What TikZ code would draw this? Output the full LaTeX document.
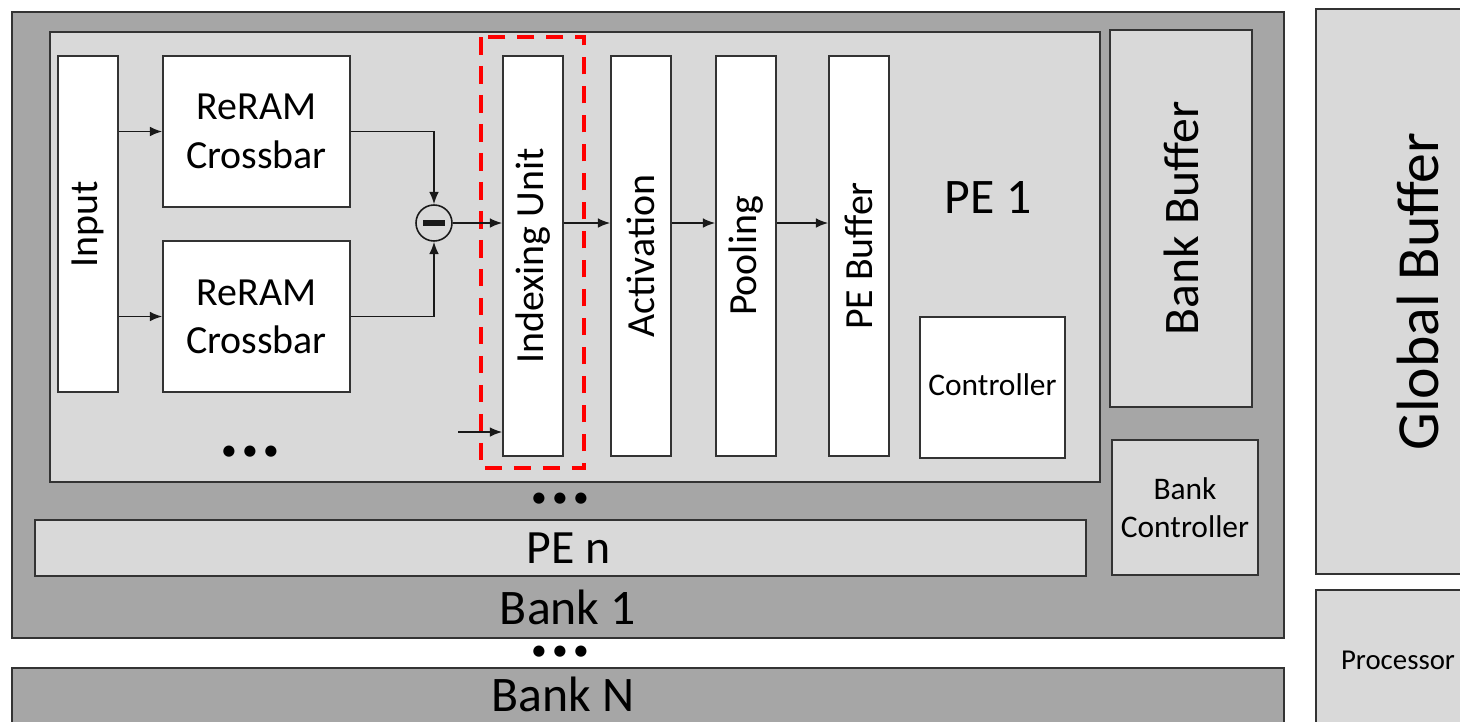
\documentclass[tikz,border=0pt]{standalone}
\usepackage{fontspec}
\setmainfont{Carlito}
\usetikzlibrary{arrows.meta,positioning,calc}
\definecolor{bankgray}{HTML}{A6A6A6}
\definecolor{pegray}{HTML}{D9D9D9}
\definecolor{idxred}{HTML}{FF0000}

\begin{document}
\begin{tikzpicture}[
    x=0.02cm, y=-0.02cm,
    box/.style={rectangle, draw=black!80, line width=1pt, inner sep=0pt, align=center},
    unit/.style={box, fill=white, font=\fontsize{22.7}{27.5}\selectfont},
    region/.style={box, fill=pegray},
    bank/.style={box, fill=bankgray},
    big/.style={inner sep=1pt, font=\fontsize{28.3}{34}\selectfont},
    dots/.style={inner sep=0pt, font=\fontsize{18}{20}\selectfont},
    arr/.style={-{Latex[length=7pt,width=5.5pt]}, line width=0.8pt, black!90}
]
\useasboundingbox (0,0) rectangle (1460,721);
\clip (0,0) rectangle (1460,721);

% banks
\node[bank, minimum width=25.44cm, minimum height=12.52cm] (bank1) at (648,325) {};
\node[bank, minimum width=25.44cm, minimum height=1.84cm] (bankN) at (648,714) {};
\node[big] (bank1lbl) at (568,607) {Bank 1};
\node[big] (bankNlbl) at (563,694) {Bank N};
\node[dots] (bankdots) at (560,653) {\textbullet\,\textbullet\,\textbullet};

% PE 1
\node[region, minimum width=21cm, minimum height=9cm] (pe1) at (575,257) {};
\node[big] (pe1lbl) at (988,197) {PE 1};

\node[unit, rotate=90, minimum width=6.72cm, minimum height=1.2cm] (input) at (88,224) {Input};
\node[unit, minimum width=3.74cm, minimum height=3.02cm] (xbarA) at (256.5,131.5) {ReRAM\\Crossbar};
\node[unit, minimum width=3.74cm, minimum height=3.02cm] (xbarB) at (256.5,316.5) {ReRAM\\Crossbar};
\node[dots] (xbardots) at (250,453) {\textbullet\,\textbullet\,\textbullet};

\node[circle, draw=black!90, line width=0.9pt, minimum size=0.72cm, inner sep=0pt] (sub) at (434,223) {};
\draw[line width=3pt, black!90] ([xshift=-6pt]sub.center) -- ([xshift=6pt]sub.center);

\node[unit, rotate=90, minimum width=8cm, minimum height=1.2cm] (index) at (533,256) {Indexing Unit};
\node[unit, rotate=90, minimum width=8cm, minimum height=1.2cm] (activ) at (641,256) {Activation};
\node[unit, rotate=90, minimum width=8cm, minimum height=1.2cm] (pool) at (746,256) {Pooling};
\node[unit, rotate=90, minimum width=8cm, minimum height=1.2cm] (pebuf) at (859,256) {PE Buffer};
\node[unit, minimum width=2.9cm, minimum height=2.82cm, font=\fontsize{17.9}{21.5}\selectfont] (ctrl) at (992.5,387.5) {\raisebox{3pt}{Controller}};

\draw[idxred, line width=2.3pt, dash pattern=on 10pt off 6.5pt] (481,37) rectangle (584,468);

\coordinate (idxin) at (458,432);

\draw[arr] (input.south |- xbarA) -- (xbarA.west);
\draw[arr] (input.south |- xbarB) -- (xbarB.west);
\draw[arr] (xbarA.east) -| (sub.north);
\draw[arr] (xbarB.east) -| (sub.south);
\draw[arr] (sub.east) -- (sub -| index.north);
\draw[arr] (index.south |- sub) -- (activ.north |- sub);
\draw[arr] (activ.south |- sub) -- (pool.north |- sub);
\draw[arr] (pool.south |- sub) -- (pebuf.north |- sub);
\draw[arr] (idxin) -- (idxin -| index.north);

% PE n
\node[dots] (pedots) at (560,500) {\textbullet\,\textbullet\,\textbullet};
\node[region, minimum width=21.02cm, minimum height=1.12cm, font=\fontsize{27.2}{32}\selectfont] (pen) at (560.5,548) {\hspace*{9pt}PE n};

% bank side
\node[region, rotate=90, minimum width=7.54cm, minimum height=2.84cm, font=\fontsize{28.3}{34}\selectfont] (bankbuf) at (1181,218.5) {Bank Buffer};
\node[region, minimum width=2.92cm, minimum height=2.7cm, font=\fontsize{17.9}{21.5}\selectfont] (bankctrl) at (1185,507.5) {Bank\\Controller};

% global
\node[region, minimum width=4.16cm, minimum height=11.3cm] (global) at (1420,291.5) {};
\node[rotate=90, font=\fontsize{34}{40}\selectfont] (globallbl) at (1418,291.5) {Global Buffer};
\node[region, minimum width=4.16cm, minimum height=3.4cm] (proc) at (1420,675) {};
\node[font=\fontsize{16.4}{20}\selectfont] (proclbl) at (1398,660) {Processor};

\end{tikzpicture}
\end{document}
